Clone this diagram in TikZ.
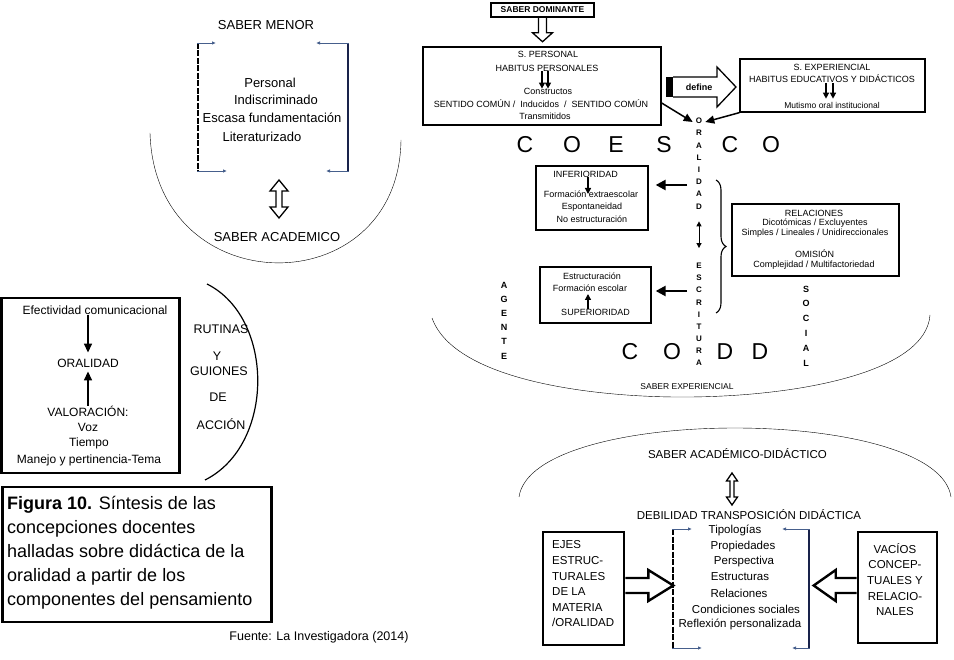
\documentclass[tikz,border=0pt]{standalone}
\usepackage{fontspec}
\setmainfont{Liberation Sans}
\usetikzlibrary{arrows.meta,decorations.pathreplacing,calc}
\definecolor{bl}{RGB}{70,95,140}
\definecolor{navyc}{RGB}{25,35,75}
\begin{document}
\begin{tikzpicture}[x=1pt,y=-1pt,
 every node/.style={inner sep=0pt},
 f9/.style={font=\fontsize{9}{11}\selectfont},
 f85/.style={font=\fontsize{8.5}{10}\selectfont},
 f12/.style={font=\fontsize{12}{14}\selectfont},
 f125/.style={font=\fontsize{12.5}{14}\selectfont},
 f13/.style={font=\fontsize{13}{15}\selectfont},
 f115/.style={font=\fontsize{11.5}{14}\selectfont},
 bigl/.style={font=\fontsize{23}{26}\selectfont},
 vl/.style={font=\fontsize{8}{9}\selectfont\bfseries},
 vlb/.style={font=\fontsize{9}{11}\selectfont\bfseries},
 bx/.style={draw, line width=1.3pt},
 tbx/.style={draw, line width=2.6pt},
 ar/.style={-{Triangle[length=6pt,width=6pt]}, line width=1.3pt},
 tar/.style={-{Triangle[length=10pt,width=10pt]}, line width=2.4pt},
 oar/.style={-{Triangle[length=9pt,width=8pt]}, line width=1.5pt},
 blu/.style={draw=bl, line width=0.8pt, -{Latex[length=4pt,width=3.5pt]}},
 dv/.style={line width=2.4pt, dash pattern=on 6pt off 1.5pt},
 hol/.style={draw, line width=1.3pt, line join=miter},
]
\useasboundingbox (0,0) rectangle (954,660);

% ---------- SABER MENOR ----------
\node[f13] (smen) at (266,25) {SABER MENOR};
\node[f13] (l1) at (270,83) {Personal};
\node[f13] (l2) at (276,100) {Indiscriminado};
\node[f13] (l3) at (272,118) {Escasa fundamentación};
\node[f13] (l4) at (262,137) {Literaturizado};
\draw[dv] (198,43) -- (198,171);
\draw[blu] (197,43) -- (216,43);
\draw[blu] (197,171) -- (227,171);
\draw[navyc, line width=1.3pt] (348,43) -- (348,171);
\draw[blu] (348.6,43) -- (316,43);
\draw[blu] (348.6,171) -- (326,171);
\node[f13] (sacad) at (277,237) {SABER ACADEMICO};
\draw[hol] (279,180) -- (288,191) -- (282,191) -- (282,207) -- (288,207) -- (279,218)
  -- (270,207) -- (276,207) -- (276,191) -- (270,191) -- cycle;
\draw[thin] (150,133) .. controls (155,305) and (399,305) .. (401,140);

% ---------- left box ----------
\node[tbx, minimum width=178pt, minimum height=175pt] (lbox) at (90.5,385.5) {};
\node[f12] (efe) at (95,310) {Efectividad comunicacional};
\node[f12] (ora) at (88,363) {ORALIDAD};
\node[f12] (val) at (88,411) {VALORACIÓN:};
\node[f12] (voz) at (88,427) {Voz};
\node[f12] (tie) at (89,443) {Tiempo};
\node[f12] (man) at (89,460) {Manejo y pertinencia-Tema};
\draw[oar] (efe.south -| ora.north) -- ([yshift=6pt]ora.north);
\draw[oar] (val.north) -- ([yshift=-4pt]ora.south);

\draw[line width=1.2pt] (207,284) .. controls (275,318) and (275,445) .. (205,480);
\node[f125] (rut) at (221,329) {RUTINAS};
\node[f125] (ry) at (217,356) {Y};
\node[f125] (gui) at (219,371) {GUIONES};
\node[f125] (dde) at (218,397) {DE};
\node[f125] (acc) at (221,424) {ACCIÓN};

% ---------- caption ----------
\node[tbx, minimum width=269pt, minimum height=135pt] (capb) at (137,554.5) {};
\node[anchor=west, align=left, font=\fontsize{18}{24}\selectfont] (cap) at (7,553)
 {\textbf{Figura 10.} Síntesis de las\\concepciones docentes\\halladas sobre didáctica de la\\oralidad a partir de los\\componentes del pensamiento};
\node[font=\fontsize{12.5}{14}\selectfont] (fue) at (319,637) {Fuente: La Investigadora (2014)};

% ---------- top right ----------
\node[draw, line width=1.5pt, minimum width=103pt, minimum height=14pt,
  font=\fontsize{8.5}{10}\selectfont\bfseries] (sdom) at (542.5,10) {SABER DOMINANTE};
\draw[hol] ([shift={(-4,0)}]sdom.south) -- ++(0,15) -- ++(-6,0) -- ++(10,9) -- ++(10,-9) -- ++(-6,0) -- ++(0,-15);

\node[bx, minimum width=238pt, minimum height=78pt] (spb) at (542,86) {};
\node[f9] (sp1) at (548,54) {S. PERSONAL};
\node[f9] (sp2) at (547,68) {HABITUS PERSONALES};
\node[f9] (sp3) at (548,91) {Constructos};
\node[f9] (sp4) at (541,104) {SENTIDO COMÚN /\ \ Inducidos\ \ /\ \ SENTIDO COMÚN};
\node[f9] (sp5) at (545,116) {Transmitidos};
\draw[ar] ([xshift=-5pt]sp2.south) -- ([xshift=-6pt,yshift=-1pt]sp3.north);
\draw[ar] ([xshift=1pt]sp2.south) -- ([xshift=0pt,yshift=-1pt]sp3.north);

\node[font=\fontsize{9}{11}\selectfont\bfseries] (def) at (699,87) {define};
\fill ([shift={(-33,-10)}]def.center) rectangle ([shift={(-26,10)}]def.center);
\draw[hol] ([shift={(-26,-10)}]def.center) -- ++(44,0) -- ++(0,-10) -- ++(19,20) -- ++(-19,20) -- ++(0,-10) -- ++(-44,0);

\node[bx, minimum width=185pt, minimum height=53pt] (seb) at (832.5,85.5) {};
\node[f9] (se1) at (832,67) {S. EXPERIENCIAL};
\node[f9] (se2) at (832,79) {HABITUS EDUCATIVOS Y DIDÁCTICOS};
\node[f85] (se3) at (832,105) {Mutismo oral institucional};
\draw[ar] ([xshift=-6pt]se2.south) -- ([xshift=-6pt,yshift=3pt]se3.north);
\draw[ar] ([xshift=1pt]se2.south) -- ([xshift=1pt,yshift=3pt]se3.north);

% vertical words
\foreach \l [count=\i] in {O,R,A,L,I,D,A,D} \node[vl] (or\i) at (699,{121+12.2*(\i-1)}) {\l};
\foreach \l [count=\i] in {E,S,C,R,I,T,U,R,A} \node[vl] (es\i) at (699,{266+12.1*(\i-1)}) {\l};
\foreach \l [count=\i] in {A,G,E,N,T,E} \node[vlb] (ag\i) at (504,{285+14.2*(\i-1)}) {\l};
\foreach \l [count=\i] in {S,O,C,I,A,L} \node[vlb] (so\i) at (806,{289+14.8*(\i-1)}) {\l};

\draw[oar] ([yshift=-17pt]spb.east) -- ([xshift=-3pt,yshift=-1pt]or1.west);
\draw[oar] (seb.south west) -- ([xshift=3pt,yshift=-1pt]or1.east);
\draw[{Triangle[length=5pt,width=5pt]}-{Triangle[length=5pt,width=5pt]}, line width=1pt,
  shorten <=12pt, shorten >=15pt] (or8) -- (es1);

% big letters
\foreach \l/\x [count=\i] in {C/525,O/572,E/616,S/664,C/730,O/771} \node[bigl] (co\i) at (\x,145) {\l};
\foreach \l/\x [count=\i] in {C/630,O/672,D/725,D/760} \node[bigl] (cd\i) at (\x,352) {\l};

% inferioridad
\node[bx, minimum width=112pt, minimum height=64pt] (infb) at (592,198) {};
\node[f9] (in1) at (585.5,174) {INFERIORIDAD};
\node[f9] (in2) at (591,194) {Formación extraescolar};
\node[f9] (in3) at (592,207) {Espontaneidad};
\node[f9] (in4) at (592,219) {No estructuración};
\draw[ar] ([xshift=2.5pt]in1.south) -- ([xshift=-3pt]in2.center);

% superioridad
\node[bx, minimum width=111pt, minimum height=56pt] (supb) at (595.5,295) {};
\node[f9] (su1) at (592,276) {Estructuración};
\node[f9] (su2) at (590,288) {Formación escolar};
\node[f9] (su3) at (595.5,312) {SUPERIORIDAD};
\draw[ar] ([xshift=-7.5pt]su3.north) -- ([xshift=-2pt,yshift=-6pt]su2.center);

\coordinate (p1) at (687,185);
\draw[tar, shorten >=7pt] (p1) -- (infb.east |- p1);
\coordinate (p2) at (687,291);
\draw[tar, shorten >=4pt] (p2) -- (supb.east |- p2);

\draw[decorate, decoration={brace, amplitude=10pt}, line width=1.1pt] (716,180) -- (716,313);

% relaciones
\node[bx, minimum width=167pt, minimum height=72pt] (relb) at (815.5,240) {};
\node[f9] (r1) at (814,213) {RELACIONES};
\node[f9] (r2) at (815,223) {Dicotómicas / Excluyentes};
\node[f9] (r3) at (815,233) {Simples / Lineales / Unidireccionales};
\node[f9] (r4) at (814.5,254) {OMISIÓN};
\node[f9] (r5) at (814,265) {Complejidad / Multifactoriedad};

% saber experiencial
\draw[thin] (432,318) .. controls (455,382) and (600,398) .. (690,397) .. controls (800,396) and (926,372) .. (930,315);
\node[f85] (sexp) at (687,387) {SABER EXPERIENCIAL};

% ---------- bottom right ----------
\draw[thin] (519,497) .. controls (532,405) and (938,405) .. (951,497);
\node[f115] (sad) at (737.5,454) {SABER ACADÉMICO-DIDÁCTICO};
\draw[hol] (732,473) -- (737.5,481) -- (734,481) -- (734,497) -- (737.5,497) -- (732,505)
  -- (726.5,497) -- (730,497) -- (730,481) -- (726.5,481) -- cycle;
\node[f115] (deb) at (749,515) {DEBILIDAD TRANSPOSICIÓN DIDÁCTICA};

\draw[dv] (673,529) -- (673,648);
\draw[blu] (672,529) -- (692,529);
\draw[blu] (672,648) -- (702,648);
\draw[navyc, line width=1.2pt] (809,529) -- (809,648);
\draw[blu] (809.6,529) -- (782,529);
\draw[blu] (809.6,648) -- (792,648);
\node[f115] (b1) at (735,530) {Tipologías};
\node[f115] (b2) at (743,547) {Propiedades};
\node[f115] (b3) at (744,562) {Perspectiva};
\node[f115] (b4) at (740,577) {Estructuras};
\node[f115] (b5) at (739,593) {Relaciones};
\node[f115] (b6) at (746,609) {Condiciones sociales};
\node[f115] (b7) at (740,624) {Reflexión personalizada};

\node[tbx, minimum width=81pt, minimum height=113pt] (ejb) at (583.5,588.5) {};
\node[anchor=west, align=left, font=\fontsize{11.5}{15.6}\selectfont] (ejt) at (552,584)
  {EJES\\ESTRUC-\\TURALES\\DE LA\\MATERIA\\/ORALIDAD};
\node[tbx, minimum width=79pt, minimum height=111pt] (vab) at (897.5,587.5) {};
\node[align=center, font=\fontsize{11.5}{15.7}\selectfont] (vat) at (895,579.5)
  {VACÍOS\\CONCEP-\\TUALES Y\\RELACIO-\\NALES};

\draw[hol, line width=2.4pt] ([shift={(0,-10.5)}]ejb.east) -- ++(23,0) -- ++(0,-8) -- ++(25,15.5) -- ++(-25,15.5) -- ++(0,-8) -- ++(-23,0);
\draw[hol, line width=2.4pt] ([shift={(0,-9.5)}]vab.west) -- ++(-21,0) -- ++(0,-8) -- ++(-22,15.5) -- ++(22,15.5) -- ++(0,-8) -- ++(21,0);
\end{tikzpicture}
\end{document}
